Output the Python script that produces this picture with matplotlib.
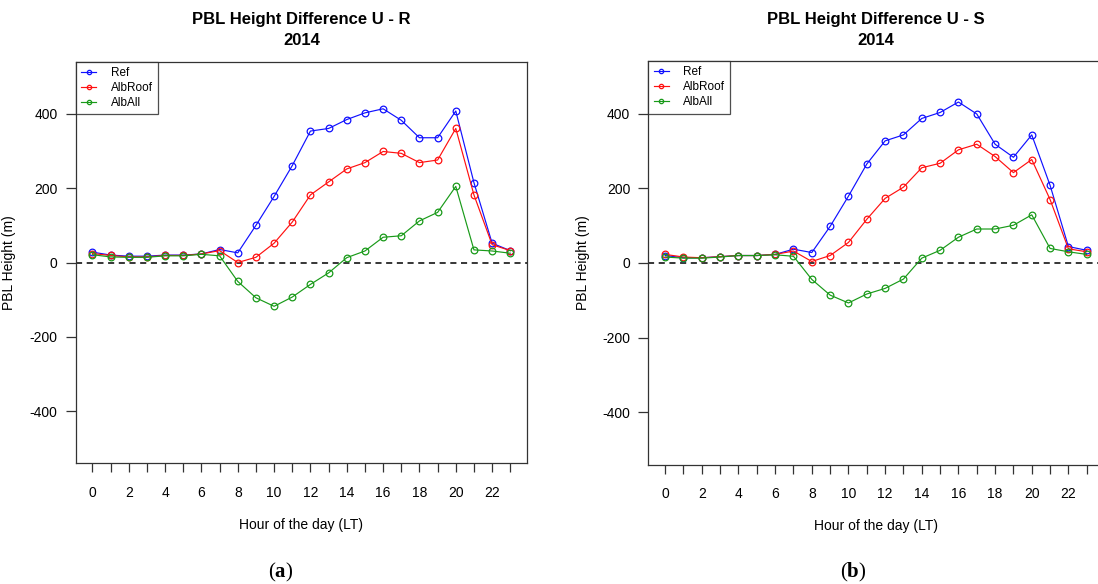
import matplotlib
matplotlib.use("Agg")
import matplotlib.pyplot as plt
from matplotlib.transforms import blended_transform_factory

plt.rcParams["font.family"] = ["Liberation Sans", "DejaVu Sans"]
plt.rcParams["axes.unicode_minus"] = False
plt.rcParams["mathtext.fontset"] = "custom"
plt.rcParams["mathtext.rm"] = "Liberation Serif"
plt.rcParams["mathtext.bf"] = "Liberation Serif:bold"

# ---- data: PBL height differences (m) by hour ----
hours = list(range(24))
hour_labels = [str(h) if h % 2 == 0 else "" for h in hours]
ytick_vals = [-400, -200, 0, 200, 400]

ref_a = [28, 20, 17, 17, 20, 20, 23, 35, 26, 100, 178, 261, 354, 361, 385, 403,
         414, 383, 336, 336, 408, 215, 52, 32]
roof_a = [24, 19, 15, 15, 19, 19, 23, 32, 0, 14, 52, 109, 182, 217, 252, 269,
          299, 294, 269, 276, 361, 182, 48, 32]
all_a = [21, 15, 14, 14, 18, 18, 22, 18, -51, -95, -118, -93, -59, -28, 13, 31,
         68, 72, 112, 135, 205, 34, 31, 25]

ref_b = [20, 14, 14, 17, 20, 20, 23, 37, 28, 98, 179, 265, 327, 343, 387, 403,
         431, 399, 318, 283, 343, 208, 44, 34]
roof_b = [23, 16, 14, 17, 20, 20, 23, 32, 4, 20, 55, 117, 173, 203, 255, 267,
          303, 318, 285, 242, 277, 170, 38, 30]
all_b = [16, 13, 13, 16, 20, 20, 22, 18, -44, -86, -107, -83, -68, -43, 13, 34,
         69, 91, 91, 101, 129, 39, 30, 23]

series_names = ["Ref", "AlbRoof", "AlbAll"]
series_colors = ["#1010ff", "#ff1010", "#199a19"]

W, H = 1098, 584
fig = plt.figure(figsize=(W / 100, H / 100), dpi=100)


def px_rect(left, top, right, bottom):
    return [left / W, 1 - bottom / H, (right - left) / W, (bottom - top) / H]


def draw_panel(rect, series, title, caption, ylabel_x):
    ax = fig.add_axes(px_rect(*rect))
    for vals, name, col in zip(series, series_names, series_colors):
        ax.plot(hours, vals, color=col, lw=0.85, marker="o", ms=4.8,
                mfc="none", mec=col, mew=0.9, label=name)
    ax.axhline(0, color="black", lw=1.1, ls=(0, (4, 3)), zorder=0)

    ax.set_xlim(-0.92, 23.92)
    ax.set_ylim(-540.8, 540.8)
    ax.set_xticks(hours)
    ax.set_xticklabels(hour_labels)
    ax.set_yticks(ytick_vals)
    ax.tick_params(axis="x", direction="out", length=6.5, width=0.9,
                   pad=9.5, labelsize=10, color="#333333")
    ax.tick_params(axis="y", direction="out", length=7, width=0.9,
                   pad=6, labelsize=10, color="#333333")
    for sp in ax.spines.values():
        sp.set_linewidth(0.9)
        sp.set_color("#333333")

    ax.set_xlabel("Hour of the day (LT)", fontsize=10, labelpad=13)
    ax.set_ylabel("PBL Height (m)", fontsize=10)
    # y label sits at a fixed pixel column, left of the tick labels
    ax.yaxis.set_label_coords((ylabel_x - rect[0]) / (rect[2] - rect[0]), 0.5)

    leg = ax.legend(loc="upper left", bbox_to_anchor=(0, 1), borderaxespad=0,
                    fontsize=8.5, frameon=True, fancybox=False,
                    handlelength=1.3, handletextpad=1.2, labelspacing=0.25,
                    borderpad=0.45, markerscale=0.65)
    leg.get_frame().set_edgecolor("#222222")
    leg.get_frame().set_linewidth(0.9)

    cx = (rect[0] + rect[2]) / 2
    fig.text(cx / W, 1 - 24 / H, title, ha="center", va="baseline",
             fontsize=12, fontweight="bold")
    fig.text(cx / W, 1 - 45 / H, "2014", ha="center", va="baseline",
             fontsize=12, fontweight="bold")
    fig.text(caption[1] / W, 1 - 577 / H, caption[0], ha="center",
             va="baseline", fontsize=15)
    return ax


draw_panel((75.7, 61.7, 527, 463.3), [ref_a, roof_a, all_a],
           "PBL Height Difference U - R", (r"$(\mathbf{a})$", 281), 16)
draw_panel((648.3, 61, 1103.6, 465), [ref_b, roof_b, all_b],
           "PBL Height Difference U - S", (r"$(\mathbf{b})$", 853), 590)

fig.savefig("out.png", dpi=100)
